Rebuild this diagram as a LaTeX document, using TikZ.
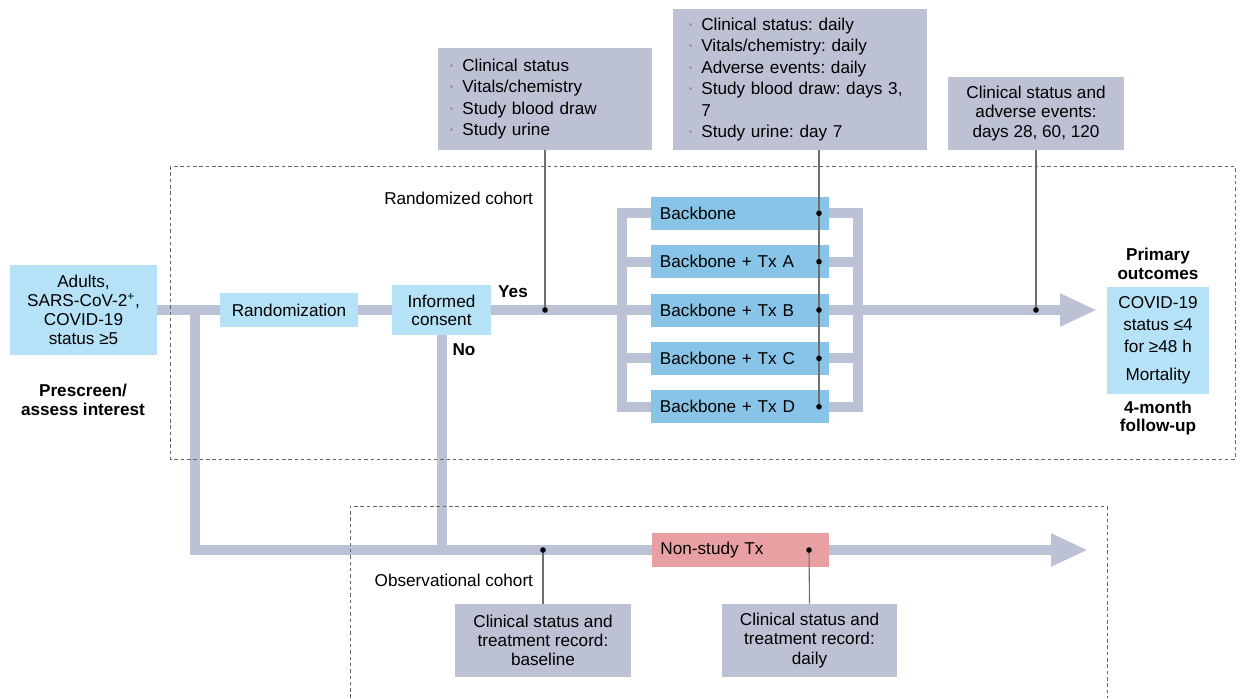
\documentclass[tikz,border=0pt]{standalone}
\usepackage{fontspec}
\setmainfont{Liberation Sans}
\usetikzlibrary{positioning,arrows.meta}
\definecolor{bandgray}{RGB}{188,194,214}
\definecolor{notegray}{RGB}{189,193,212}
\definecolor{paleblue}{RGB}{182,226,247}
\definecolor{armblue}{RGB}{135,196,232}
\definecolor{nonpink}{RGB}{233,160,162}
\definecolor{dotgray}{RGB}{150,150,150}
\definecolor{tickgray}{RGB}{110,110,110}
\newcommand{\itm}{\makebox[0.72em][l]{\raisebox{0.12em}{\textcolor{dotgray}{\scalebox{0.6}{\textbullet}}}}}
\frenchspacing

\begin{document}
\begin{tikzpicture}[x=0.025cm, y=-0.025cm,
  font=\fontsize{12.2}{13.6}\selectfont,
  box/.style={inner sep=0pt, align=center},
  pale/.style={box, fill=paleblue},
  arm/.style={box, fill=armblue, minimum width=4.45cm, minimum height=0.825cm,
              text width=4.0cm, align=left},
  note/.style={box, fill=notegray},
  list/.style={note, align=left, font=\fontsize{12.2}{15.3}\selectfont},
  band/.style={draw=bandgray, line width=0.25cm},
  bandarr/.style={band, -{Triangle[length=0.92cm, width=0.76cm]}},
  tick/.style={draw=tickgray, line width=0.8pt},
  dot/.style={fill=black},
  cohort/.style={draw=black!60, line width=0.5pt, dash pattern=on 2.5pt off 2pt},
  lbl/.style={font=\fontsize{12.2}{13.2}\selectfont\bfseries, align=center}
]
\useasboundingbox (0,0) rectangle (1240,698);

%% entry and randomization
\node[pale, minimum width=3.675cm, minimum height=2.25cm] (adults) at (83.5,310)
  {Adults,\\SARS-CoV-2\textsuperscript{+},\\COVID-19\\status ≥5};
\node[lbl] (pre) at (83,400) {Prescreen/\\assess interest};
\node[pale, minimum width=3.45cm, minimum height=0.85cm] (rand) at (289,310) {Randomization};
\node[pale, minimum width=2.45cm, minimum height=1.25cm, font=\fontsize{12.2}{12.8}\selectfont]
  (consent) at (441.5,310) {Informed\\consent};
\node[lbl] (yes) at (513,292) {Yes};
\node[lbl] (no)  at (464,350) {No};

%% treatment arms
\node[arm] (bb2) at (740,310) {Backbone + Tx B};
\node[arm, above=0.37cm of bb2] (bb1) {Backbone + Tx A};
\node[arm, above=0.37cm of bb1] (bb0) {Backbone};
\node[arm, below=0.37cm of bb2] (bb3) {Backbone + Tx C};
\node[arm, below=0.37cm of bb3] (bb4) {Backbone + Tx D};

%% outcomes
\node[pale, minimum width=2.55cm, minimum height=2.675cm, font=\fontsize{12.2}{15.5}\selectfont]
  (outbox) at (1158,340.5) {COVID-19\\status ≤4\\for ≥48 h\\[5pt]Mortality};
\node[lbl] (prim) at (1158,264) {Primary\\outcomes};
\node[lbl] (fu)   at (1158,418) {4-month\\follow-up};

%% assessment notes
\node[list, minimum width=5.35cm, minimum height=2.55cm, inner xsep=0.3cm, text width=4.75cm]
  (note1) at (545,99)
  {\itm Clinical status\\\itm Vitals/chemistry\\\itm Study blood draw\\\itm Study urine};
\node[list, minimum width=6.35cm, minimum height=3.525cm, inner xsep=0.4cm, text width=5.55cm]
  (note2) at (800,79.5)
  {\itm Clinical status: daily\\\itm Vitals/chemistry: daily\\\itm Adverse events: daily\\
   \itm Study blood draw: days 3,\\\makebox[0.72em]{}7\\\itm Study urine: day 7};
\node[note, minimum width=4.4cm, minimum height=1.825cm] (note3) at (1036,113.5)
  {Clinical status and\\adverse events:\\days 28, 60, 120};

%% observational arm
\node[box, fill=nonpink, minimum width=4.425cm, minimum height=0.85cm, text width=4.0cm,
      align=left] (nonstudy) at (740.5,550) {Non-study Tx};
\node[note, minimum width=4.4cm, minimum height=1.825cm] (basebox) at (543,640.5)
  {Clinical status and\\treatment record:\\baseline};
\node[note, minimum width=4.375cm, minimum height=1.825cm] (dailybox) at (809.5,640.5)
  {Clinical status and\\treatment record:\\daily};

\node[anchor=east] (rcoh) at (538,198) {Randomized cohort};
\node[anchor=east] (ocoh) at (538,580) {Observational cohort};

%% flow bands
\coordinate (split)  at (195,310);
\coordinate (outend) at (1097,310);
\coordinate (obsend) at (1088,550);
\draw[band] (adults.east) -- (rand.west);
\draw[band] (rand.east) -- (consent.west);
\draw[band] (consent.east) -- (bb2.west);
\draw[band] (bb0.west) -- ++(-29,0) |- (bb4.west);
\draw[band] (bb0.east) -- ++(29,0) |- (bb4.east);
\foreach \i in {1,3} {
  \draw[band] (bb\i.west) -- ++(-29,0);
  \draw[band] (bb\i.east) -- ++(29,0);
}
\draw[bandarr] (bb2.east) -- (outend);
\draw[band] (split) |- (nonstudy.west);
\draw[band] (consent.south) -- (consent.south |- nonstudy.west);
\draw[bandarr] (nonstudy.east) -- (obsend);

%% cohort frames
\draw[cohort] (170,166) rectangle (1235,459);
\draw[cohort] (350,698) |- (1107,506) -- (1107,698);

%% assessment ticks
\coordinate (d1) at (545,310);
\coordinate (d3) at (1036,310);
\coordinate (d4) at (543,550);
\coordinate (d5) at (809,550);
\coordinate (q4) at (819,0);
\draw[tick] (note1.south) -- (d1);
\draw[tick] (note3.south) -- (d3);
\draw[tick] (note2.south -| q4) -- (bb4.east -| q4);
\draw[tick] (d4) -- (basebox.north);
\draw[tick] (d5) -- (dailybox.north);
\foreach \c in {d1,d3,d4,d5} \fill[dot] (\c) circle[radius=0.07cm];
\foreach \i in {0,...,4} \fill[dot] (bb\i.east -| q4) circle[radius=0.07cm];
\end{tikzpicture}
\end{document}
